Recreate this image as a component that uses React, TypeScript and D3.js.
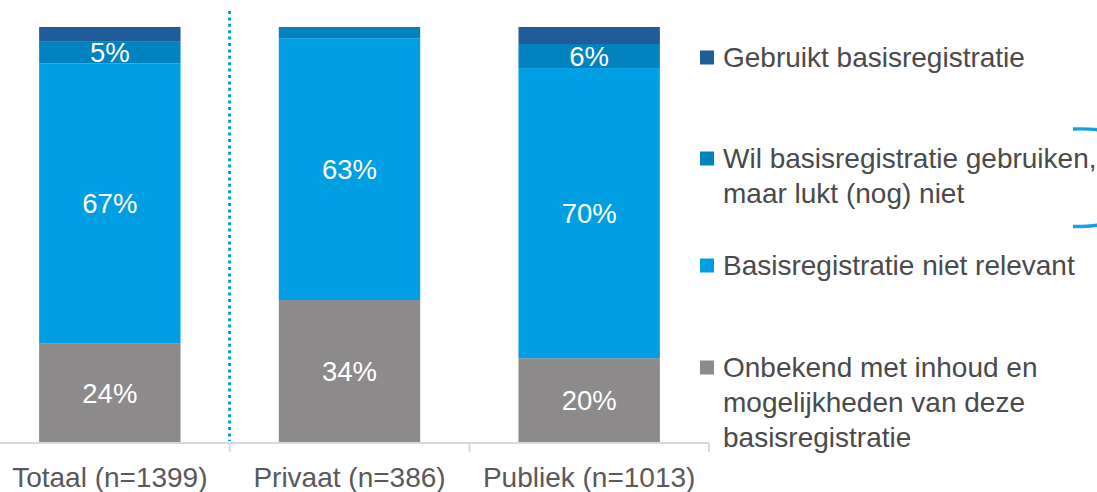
import React from "react";
import * as d3 from "d3";

const categories = ["Totaal (n=1399)", "Privaat (n=386)", "Publiek (n=1013)"];
const seriesNames = [
  "Onbekend met inhoud en mogelijkheden van deze basisregistratie",
  "Basisregistratie niet relevant",
  "Wil basisregistratie gebruiken, maar lukt (nog) niet",
  "Gebruikt basisregistratie",
];
// values per series, in order of categories (percent)
const onbekend = [23.8, 34.2, 20.2];
const nietRelevant = [67.4, 63.1, 69.9];
const wilGebruiken = [5.4, 2.7, 5.8];
const gebruikt = [3.4, 0, 4.1];
const seriesColors = ["#8c8a8b", "#009fe3", "#0083bf", "#1f5c99"];

const legendItems = [
  { lines: ["Gebruikt basisregistratie"], color: "#1f5c99", baseline: 67 },
  { lines: ["Wil basisregistratie gebruiken,", "maar lukt (nog) niet"], color: "#0083bf", baseline: 168 },
  { lines: ["Basisregistratie niet relevant"], color: "#009fe3", baseline: 275 },
  { lines: ["Onbekend met inhoud en", "mogelijkheden van deze", "basisregistratie"], color: "#8c8a8b", baseline: 377 },
];

const W = 1097;
const H = 492;
const FONT = "'Liberation Sans', Arial, sans-serif";
const FS = 27.5;
const FS_TEXT = 28;

export default function App() {
  const allSeries = [onbekend, nietRelevant, wilGebruiken, gebruikt];
  const table = categories.map((c, i) => {
    const row: any = { cat: c };
    seriesNames.forEach((s, j) => (row[s] = allSeries[j][i]));
    return row;
  });
  const stacked = d3.stack<any>().keys(seriesNames)(table);

  const x = d3.scaleBand<string>().domain(categories).range([-10, 709]).paddingInner(0).paddingOuter(0);
  const y = d3.scaleLinear().domain([0, 100]).range([442, 27]);
  const barW = x.bandwidth() * 0.59;
  const axisY = 443;

  const tickXs = categories.map((c) => (x(c) as number) + x.bandwidth());

  return (
    <svg width={W} height={H} style={{ position: "absolute", left: 0, top: 0, background: "#fff" }} fontFamily={FONT}>
      {/* bars */}
      {stacked.map((layer, si) => (
        <g key={si} fill={seriesColors[si]}>
          {layer.map((d, ci) => {
            const cx = (x(categories[ci]) as number) + x.bandwidth() / 2;
            const h = y(d[0]) - y(d[1]);
            if (h <= 0) return null;
            return <rect key={ci} x={cx - barW / 2} y={y(d[1])} width={barW} height={h} />;
          })}
        </g>
      ))}
      {/* labels */}
      {stacked.map((layer, si) => (
        <g key={"l" + si}>
          {layer.map((d, ci) => {
            const v = d[1] - d[0];
            const r = Math.round(v);
            if (r < 5) return null;
            const cx = (x(categories[ci]) as number) + x.bandwidth() / 2;
            const my = (y(d[0]) + y(d[1])) / 2;
            return (
              <text key={ci} x={cx} y={my} dy="0.36em" textAnchor="middle" fill="#fff" fontSize={FS}>
                {r}%
              </text>
            );
          })}
        </g>
      ))}
      {/* dotted separator */}
      <line x1={229.5} x2={229.5} y1={11} y2={441} stroke="#0aa0e0" strokeWidth={3} strokeDasharray="3 3.4" />
      {/* axis */}
      <line x1={0} x2={709} y1={axisY} y2={axisY} stroke="#d9d9d9" strokeWidth={2} />
      {tickXs.map((tx, i) => (
        <line key={i} x1={tx} x2={tx} y1={axisY} y2={452} stroke="#d9d9d9" strokeWidth={2} />
      ))}
      {categories.map((c) => (
        <text key={c} x={(x(c) as number) + x.bandwidth() / 2} y={487} textAnchor="middle" fill="#595959" fontSize={FS_TEXT}>
          {c}
        </text>
      ))}
      {/* legend */}
      {legendItems.map((it, i) => (
        <g key={i}>
          <rect x={700} y={it.baseline - 16.5} width={14} height={14} fill={it.color} />
          {it.lines.map((ln, k) => (
            <text key={k} x={723} y={it.baseline + k * 35} fill="#4a4a4a" fontSize={FS_TEXT}>
              {ln}
            </text>
          ))}
        </g>
      ))}
      {/* bracket fragments at right edge */}
      <path d="M1073,129 Q1090,128.5 1098,130" fill="none" stroke="#1aa0e0" strokeWidth={3.5} />
      <path d="M1073,226.5 Q1090,226.5 1098,225" fill="none" stroke="#1aa0e0" strokeWidth={3.5} />
    </svg>
  );
}
